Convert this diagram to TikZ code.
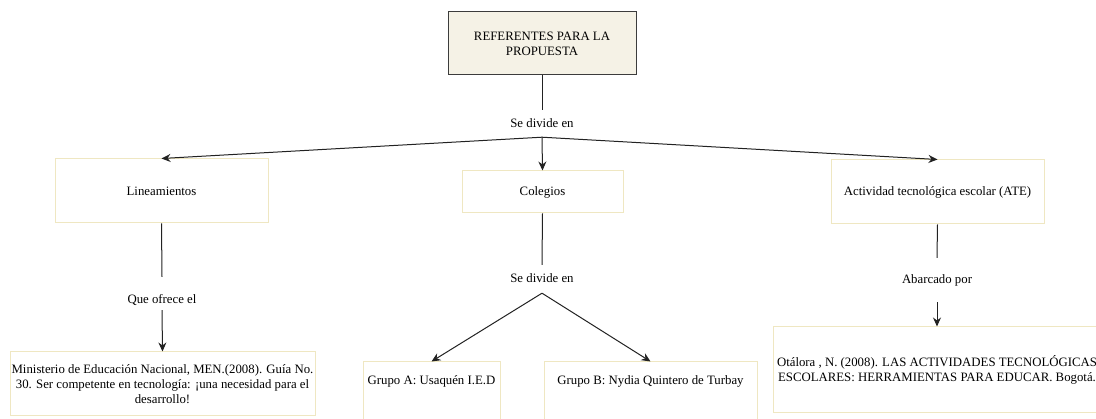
\documentclass[tikz,border=0pt]{standalone}
\usepackage{fontspec}
\setmainfont{Liberation Serif}
\usetikzlibrary{arrows.meta,positioning}

\definecolor{boxline}{HTML}{EFE7C2}
\definecolor{topfill}{HTML}{F5F2E6}
\definecolor{topline}{HTML}{3C3C3C}
\definecolor{linecol}{HTML}{222222}

\tikzset{
  topbox/.style={draw=topline, fill=topfill, line width=1pt, inner sep=0pt, align=center},
  itembox/.style={draw=boxline, line width=1pt, fill=white, inner sep=0pt, align=center},
  lab/.style 2 args={inner xsep=2pt, inner ysep=0pt, text height=#1, text depth=#2},
  conn/.style={draw=linecol, line width=1pt},
  arr/.style={conn, -{Stealth[length=9pt,width=8pt]}},
}

\begin{document}
\begin{tikzpicture}[x=1pt, y=-1pt, font=\fontsize{12.8}{15}\selectfont]
  \useasboundingbox (0,0) rectangle (1096,419);

  % nivel superior
  \node (ref) [topbox, minimum width=188pt, minimum height=63pt] at (542,43.5) {REFERENTES PARA LA\\PROPUESTA};
  \node (div1) [lab={18pt}{9pt}] at (542,123.5) {Se divide en};

  % segundo nivel
  \node (lin) [itembox, minimum width=213pt, minimum height=64pt] at (161.5,191) {Lineamientos};
  \node (col) [itembox, minimum width=161pt, minimum height=42pt] at (542.5,192) {Colegios};
  \node (ate) [itembox, minimum width=213pt, minimum height=64pt] at (937.5,192) {Actividad tecnológica escolar (ATE)};

  \node (que) [lab={27pt}{6pt}] at (162,293.5) {Que ofrece el};
  \node (div2) [lab={18pt}{10pt}] at (542,279) {Se divide en};
  \node (aba) [lab={26pt}{18pt}] at (937,280) {Abarcado por};

  % nivel inferior
  \node (men) [itembox, minimum width=305pt, minimum height=64pt] at (162.5,384) {Ministerio de Educación Nacional, MEN.(2008). Guía No.\\30. Ser competente en tecnología: ¡una necesidad para el\\desarrollo!};
  \node (gra) [itembox, minimum width=137pt, text height=23pt, text depth=55pt] at (431.5,401) {Grupo A: Usaquén I.E.D};
  \node (grb) [itembox, minimum width=213pt, text height=23pt, text depth=55pt] at (650.5,401) {Grupo B: Nydia Quintero de Turbay};
  \node (ota) [itembox, minimum width=328pt, minimum height=86pt] at (937,370) {Otálora , N. (2008). LAS ACTIVIDADES TECNOLÓGICAS\\ESCOLARES: HERRAMIENTAS PARA EDUCAR. Bogotá.};

  \draw[conn] (ref.south) -- (div1.north);
  \draw[arr] (div1.south) -- (lin.north);
  \draw[arr] (div1.south) -- (col.north);
  \draw[arr] (div1.south) -- (ate.north);

  \draw[conn] (lin.south) -- (que.north);
  \draw[arr] (que.south) -- (men.north);

  \draw[conn] (col.south) -- (div2.north);
  \draw[arr] (div2.south) -- (gra.north);
  \draw[arr] (div2.south) -- (grb.north);

  \draw[conn] (ate.south) -- (aba.north);
  \draw[arr] (aba.south) -- (ota.north);
\end{tikzpicture}
\end{document}
